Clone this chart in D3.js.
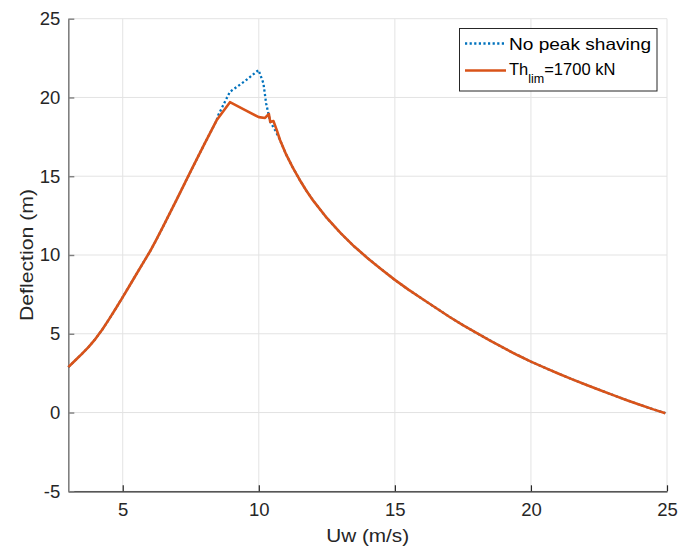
<!DOCTYPE html>
<html>
<head>
<meta charset="utf-8">
<script src="https://cdn.jsdelivr.net/npm/d3@7"></script>
<style>
  html, body { margin: 0; padding: 0; background: #fff; }
  svg { display: block; font-family: "Liberation Sans", Arial, Helvetica, sans-serif; }
</style>
</head>
<body>
<svg id="chart" width="681" height="553"></svg>
<script>
// ---- Data ----
const uwLimited = [3, 3.25, 3.5, 3.75, 4.0, 4.25, 4.5, 4.75, 5.0, 5.25, 5.5, 5.75, 6.0, 6.25, 6.5, 6.75, 7.0, 7.25, 7.5, 7.75, 8.0, 8.25, 8.45,
  8.94, 9.5, 10.0, 10.23, 10.37, 10.42, 10.54, 10.66, 10.78,
  11.0, 11.25, 11.5, 11.75, 12.0, 12.5, 13.0, 13.5, 14.0, 14.5, 15.0, 15.5, 16.0, 16.5, 17.0, 17.5, 18.0, 18.5, 19.0, 19.5, 20.0, 20.5, 21.0, 21.5, 22.0, 22.5, 23.0, 23.5, 24.0, 24.5, 24.94];
const deflLimited = [2.88, 3.3, 3.72, 4.17, 4.68, 5.27, 5.93, 6.62, 7.33, 8.05, 8.78, 9.5, 10.22, 11.02, 11.86, 12.72, 13.58, 14.45, 15.32, 16.18, 17.04, 17.88, 18.55,
  19.7, 19.2, 18.75, 18.7, 18.95, 18.45, 18.5, 17.93, 17.3,
  16.4, 15.55, 14.78, 14.08, 13.45, 12.35, 11.4, 10.55, 9.8, 9.1, 8.42, 7.8, 7.22, 6.65, 6.08, 5.55, 5.05, 4.57, 4.1, 3.65, 3.23, 2.85, 2.48, 2.12, 1.78, 1.45, 1.12, 0.8, 0.5, 0.2, -0.04];

const uwNoShave = [3, 3.25, 3.5, 3.75, 4.0, 4.25, 4.5, 4.75, 5.0, 5.25, 5.5, 5.75, 6.0, 6.25, 6.5, 6.75, 7.0, 7.25, 7.5, 7.75, 8.0, 8.25, 8.45,
  8.51, 8.94, 9.5, 9.99, 10.17, 10.27, 10.42, 10.6, 10.78,
  11.0, 11.25, 11.5, 11.75, 12.0, 12.5, 13.0, 13.5, 14.0, 14.5, 15.0, 15.5, 16.0, 16.5, 17.0, 17.5, 18.0, 18.5, 19.0, 19.5, 20.0, 20.5, 21.0, 21.5, 22.0, 22.5, 23.0, 23.5, 24.0, 24.5, 24.94];
const deflNoShave = [2.88, 3.3, 3.72, 4.17, 4.68, 5.27, 5.93, 6.62, 7.33, 8.05, 8.78, 9.5, 10.22, 11.02, 11.86, 12.72, 13.58, 14.45, 15.32, 16.18, 17.04, 17.88, 18.55,
  18.88, 20.36, 21.05, 21.74, 20.9, 19.62, 18.45, 17.93, 17.3,
  16.4, 15.55, 14.78, 14.08, 13.45, 12.35, 11.4, 10.55, 9.8, 9.1, 8.42, 7.8, 7.22, 6.65, 6.08, 5.55, 5.05, 4.57, 4.1, 3.65, 3.23, 2.85, 2.48, 2.12, 1.78, 1.45, 1.12, 0.8, 0.5, 0.2, -0.04];

const xTicks = [5, 10, 15, 20, 25];
const yTicks = [-5, 0, 5, 10, 15, 20, 25];
const xDomain = [3, 25];
const yDomain = [-5, 25];
const seriesNames = ["No peak shaving", "Th", "lim", "=1700 kN"];
const xLabel = "Uw (m/s)";
const yLabel = "Deflection (m)";

// ---- Layout ----
const svg = d3.select("#chart");
const L = 68.3, R = 667, T = 18.7, B = 491.3;
const x = d3.scaleLinear().domain(xDomain).range([L, R]);
const y = d3.scaleLinear().domain(yDomain).range([B, T]);

const blue = "#0072BD", orange = "#D95319", ink = "#262626";

// grid
const grid = svg.append("g");
grid.selectAll("line.gx").data(xTicks).join("line")
  .attr("x1", d => x(d)).attr("x2", d => x(d)).attr("y1", T).attr("y2", B)
  .attr("stroke", "#e3e3e3").attr("stroke-width", 1);
grid.selectAll("line.gy").data(yTicks).join("line")
  .attr("x1", L).attr("x2", R).attr("y1", d => y(d)).attr("y2", d => y(d))
  .attr("stroke", "#e3e3e3").attr("stroke-width", 1);

// axes
const xAxis = d3.axisBottom(x).tickValues(xTicks).tickSizeInner(-6).tickSizeOuter(0).tickPadding(12).tickFormat(d3.format("d"));
const gx = svg.append("g").attr("transform", `translate(0,${B})`).call(xAxis);
gx.select(".domain").attr("stroke", ink).attr("stroke-width", 1.2);
gx.selectAll(".tick line").attr("stroke", ink).attr("stroke-width", 1.2);
gx.selectAll(".tick text").attr("fill", ink).attr("font-size", 18.5)
  .attr("font-family", "Liberation Sans, Arial, sans-serif");

const yAxis = d3.axisLeft(y).tickValues(yTicks).tickSizeInner(-6).tickSizeOuter(0).tickPadding(8).tickFormat(d => d < 0 ? "-" + Math.abs(d) : String(d));
const gy = svg.append("g").attr("transform", `translate(${L},0)`).call(yAxis);
gy.select(".domain").attr("stroke", "#7f7f7f").attr("stroke-width", 1.6);
gy.selectAll(".tick line").attr("stroke", "#7f7f7f").attr("stroke-width", 1.4);
gy.selectAll(".tick text").attr("fill", ink).attr("font-size", 18.5)
  .attr("font-family", "Liberation Sans, Arial, sans-serif");

// lines
const lineGen = d3.line().x(d => x(d[0])).y(d => y(d[1]));
const noShave = uwNoShave.map((u, i) => [u, deflNoShave[i]]);
const limited = uwLimited.map((u, i) => [u, deflLimited[i]]);

svg.append("path").datum(noShave).attr("d", lineGen)
  .attr("fill", "none").attr("stroke", blue).attr("stroke-width", 2.3)
  .attr("stroke-dasharray", "2.2,2.4");
svg.append("path").datum(limited).attr("d", lineGen)
  .attr("fill", "none").attr("stroke", orange).attr("stroke-width", 2.6)
  .attr("stroke-linejoin", "round");

// axis labels
svg.append("text").attr("x", (L + R) / 2).attr("y", 542).attr("text-anchor", "middle")
  .attr("font-size", 19).attr("fill", ink)
  .attr("textLength", 83).attr("lengthAdjust", "spacingAndGlyphs").text(xLabel);
svg.append("text").attr("transform", `translate(33,${(T + B) / 2}) rotate(-90)`)
  .attr("text-anchor", "middle").attr("font-size", 19).attr("fill", ink)
  .attr("textLength", 132).attr("lengthAdjust", "spacingAndGlyphs").text(yLabel);

// legend
const lg = svg.append("g");
lg.append("rect").attr("x", 459.5).attr("y", 28.5).attr("width", 197.5).attr("height", 62.5)
  .attr("fill", "#fff").attr("stroke", ink).attr("stroke-width", 1);
lg.append("line").attr("x1", 465).attr("x2", 506).attr("y1", 43.5).attr("y2", 43.5)
  .attr("stroke", blue).attr("stroke-width", 2.3).attr("stroke-dasharray", "2.2,2.4");
lg.append("line").attr("x1", 465).attr("x2", 506).attr("y1", 70.5).attr("y2", 70.5)
  .attr("stroke", orange).attr("stroke-width", 2.6);
lg.append("text").attr("x", 509).attr("y", 50).attr("font-size", 16.5).attr("fill", "#000")
  .attr("textLength", 142).attr("lengthAdjust", "spacingAndGlyphs").text(seriesNames[0]);
const t2 = lg.append("text").attr("x", 509).attr("y", 75).attr("font-size", 16.5).attr("fill", "#000");
t2.append("tspan").text(seriesNames[1]);
t2.append("tspan").attr("font-size", 12.5).attr("dy", 8).text(seriesNames[2]);
t2.append("tspan").attr("dy", -8).text(seriesNames[3]);
</script>
</body>
</html>
